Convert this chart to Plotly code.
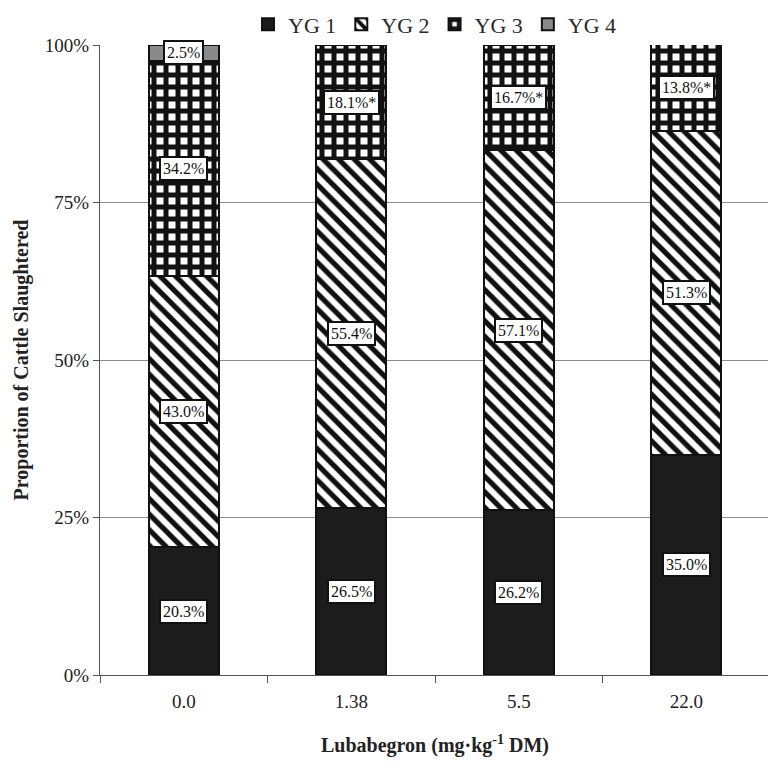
import plotly.graph_objects as go

categories = ["0.0", "1.38", "5.5", "22.0"]
yg1 = [20.3, 26.5, 26.2, 35.0]
yg2 = [43.0, 55.4, 57.1, 51.3]
yg3 = [34.2, 18.1, 16.7, 13.8]
yg4 = [2.5, 0.0, 0.0, 0.0]
labels_yg3 = ["34.2%", "18.1%*", "16.7%*", "13.8%*"]
series_names = ["YG 1", "YG 2", "YG 3", "YG 4"]

FONT = "Liberation Serif"

fig = go.Figure()
styles = [
    dict(color="#1c1c1c", pattern=dict(shape="")),
    dict(color="white", pattern=dict(shape="\\", fgcolor="#111", bgcolor="white",
                                     fgopacity=1, size=11, solidity=0.48)),
    dict(color="white", pattern=dict(shape="+", fgcolor="#111", bgcolor="white",
                                     fgopacity=1, size=12, solidity=0.66)),
    dict(color="#8a8a8a", pattern=dict(shape="")),
]
all_vals = [yg1, yg2, yg3, yg4]
for name, vals, st in zip(series_names, all_vals, styles):
    fig.add_trace(go.Bar(
        x=categories, y=vals, name=name, width=0.42,
        marker=dict(color=st["color"], pattern=st["pattern"],
                    line=dict(color="#111", width=2)),
    ))

# value labels (x given as category index)
for i, cat in enumerate(categories):
    base = 0.0
    texts = [f"{yg1[i]:.1f}%", f"{yg2[i]:.1f}%", labels_yg3[i], f"{yg4[i]:.1f}%"]
    for vals, t in zip(all_vals, texts):
        v = vals[i]
        if v > 0:
            fig.add_annotation(x=i, y=base + v / 2, text=t, showarrow=False,
                               bgcolor="white", bordercolor="#111", borderwidth=2,
                               borderpad=2,
                               font=dict(family=FONT, size=16, color="#111"))
        base += v

fig.update_layout(
    barmode="stack",
    width=776, height=776,
    margin=dict(l=92, r=14, t=37, b=109, autoexpand=False),
    plot_bgcolor="white", paper_bgcolor="white",
    font=dict(family=FONT, color="#222"),
    legend=dict(orientation="h", x=0.5, xanchor="center", y=1.066, yanchor="top",
                font=dict(family=FONT, size=22, color="#2a2a2a"),
                itemwidth=30, traceorder="normal",
                bgcolor="rgba(0,0,0,0)"),
    xaxis=dict(
        type="category", range=[-0.5, 3.5],
        showline=True, linecolor="#555", linewidth=1,
        ticks="outside", tickson="boundaries", ticklen=7, tickcolor="#555",
        ticklabelstandoff=9,
        tickfont=dict(family=FONT, size=19, color="#222"),
        title=dict(text="<b>Lubabegron (mg·kg<sup>-1</sup> DM)</b>",
                   font=dict(family=FONT, size=20, color="#222"), standoff=27),
    ),
    yaxis=dict(
        range=[0, 100], tickvals=[0, 25, 50, 75, 100],
        ticktext=["0%", "25%", "50%", "75%", "100%"],
        showline=True, linecolor="#555", linewidth=1,
        ticks="outside", ticklen=6, tickcolor="#555",
        showgrid=True, gridcolor="#8c8c8c", gridwidth=1,
        tickfont=dict(family=FONT, size=19, color="#222"),
        title=dict(text="<b>Proportion of Cattle Slaughtered</b>",
                   font=dict(family=FONT, size=20, color="#222"), standoff=10),
    ),
)

fig.write_html("out.html")
